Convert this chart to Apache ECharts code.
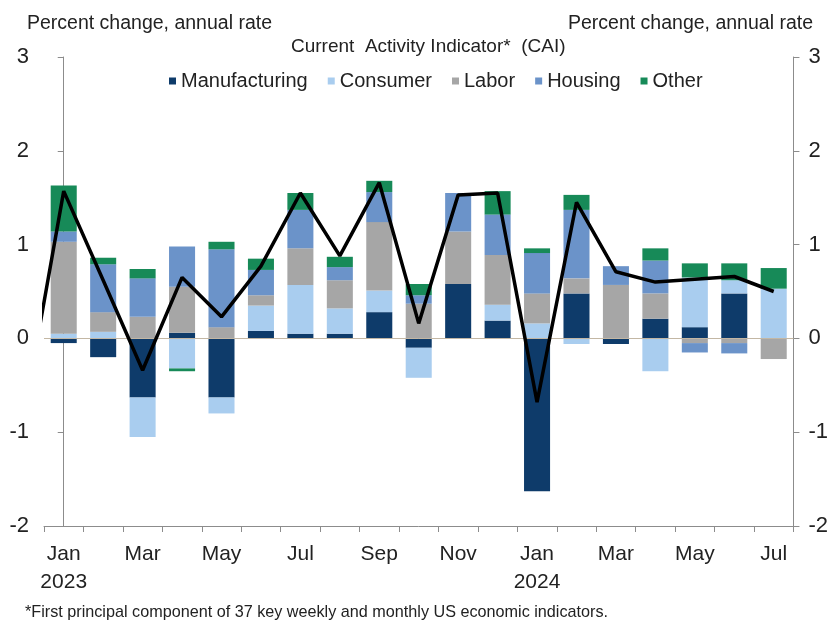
<!DOCTYPE html>
<html>
<head>
<meta charset="utf-8">
<script src="https://cdn.jsdelivr.net/npm/echarts@6/dist/echarts.min.js"></script>
<style>
  html, body { margin: 0; padding: 0; background: #fff; }
  #chart { width: 831px; height: 621px; }
</style>
</head>
<body>
<div id="chart"></div>
<script>
const months = ['Jan\n2023', 'Feb', 'Mar', 'Apr', 'May', 'Jun', 'Jul', 'Aug', 'Sep', 'Oct', 'Nov', 'Dec',
  'Jan\n2024', 'Feb', 'Mar', 'Apr', 'May', 'Jun', 'Jul'];
const manufacturing = [-0.05, -0.2, -0.63, 0.06, -0.63, 0.08, 0.05, 0.05, 0.28, -0.1, 0.58, 0.19, -1.63, 0.48, -0.06, 0.21, 0.12, 0.48, 0];
const consumer = [0.05, 0.07, -0.42, -0.32, -0.17, 0.27, 0.52, 0.27, 0.23, -0.32, 0, 0.17, 0.16, -0.06, 0, -0.35, 0.53, 0.14, 0.53];
const labor = [0.98, 0.21, 0.23, 0.49, 0.12, 0.11, 0.39, 0.3, 0.73, 0.37, 0.56, 0.53, 0.32, 0.16, 0.57, 0.27, -0.05, -0.05, -0.22];
const housing = [0.11, 0.51, 0.41, 0.43, 0.83, 0.27, 0.41, 0.14, 0.32, 0.09, 0.41, 0.43, 0.43, 0.73, 0.2, 0.35, -0.1, -0.11, 0];
const other = [0.49, 0.07, 0.1, -0.03, 0.08, 0.12, 0.18, 0.11, 0.12, 0.12, 0, 0.25, 0.05, 0.16, 0, 0.13, 0.15, 0.18, 0.22];
// CAI, first value is Dec 2022 (only its segment shows, clipped at the left edge)
const cai = [-0.8, 1.57, 0.62, -0.34, 0.65, 0.23, 0.77, 1.55, 0.88, 1.66, 0.16, 1.53, 1.55, -0.68, 1.45, 0.71, 0.6, 0.63, 0.66, 0.5];
const yTicks = [3, 2, 1, 0, -1, -2];

const font = 'Liberation Sans, Arial, sans-serif';

const colors = {
  Manufacturing: '#0e3b6a',
  Consumer: '#a9cdef',
  Labor: '#a6a6a6',
  Housing: '#6b93c9',
  Other: '#178a58'
};

function barSeries(name, data) {
  return {
    name: name,
    type: 'bar',
    stack: 'cai',
    barCategoryGap: '34%',
    itemStyle: { color: colors[name] },
    data: data
  };
}

const series = [
  barSeries('Manufacturing', manufacturing),
  barSeries('Consumer', consumer),
  barSeries('Labor', labor),
  barSeries('Housing', housing),
  barSeries('Other', other),
  {
    name: 'CAI',
    type: 'line',
    xAxisIndex: 1,
    symbol: 'none',
    clip: true,
    lineStyle: { color: '#000', width: 3.5 },
    data: cai.map((v, i) => [i - 1, v]),
    z: 5
  }
];
series[0].markLine = {
  silent: true,
  symbol: 'none',
  label: { show: false },
  lineStyle: { color: '#c3b7a4', width: 1, type: 'solid' },
  data: [{ yAxis: 0 }]
};

const yAxisBase = {
  type: 'value',
  min: -2,
  max: 3,
  interval: 1,
  splitLine: { show: false },
  axisLine: { show: true, lineStyle: { color: '#8c8c8c', width: 1 } },
  axisTick: { show: true, length: 6, lineStyle: { color: '#8c8c8c' } },
  axisLabel: {
    color: '#222',
    fontFamily: font,
    fontSize: 22,
    margin: 15,
    formatter: v => yTicks.includes(v) ? String(v) : ''
  }
};

const chart = echarts.init(document.getElementById('chart'));
chart.setOption({
  animation: false,
  backgroundColor: '#fff',
  title: [
    { text: 'Percent change, annual rate', left: 22, top: 9,
      textStyle: { fontFamily: font, fontSize: 19.5, fontWeight: 'normal', color: '#222' } },
    { text: 'Percent change, annual rate', right: 13, top: 9,
      textStyle: { fontFamily: font, fontSize: 19.5, fontWeight: 'normal', color: '#222' } },
    { text: 'Current  Activity Indicator*  (CAI)', left: 286, top: 32,
      textStyle: { fontFamily: font, fontSize: 19, fontWeight: 'normal', color: '#222' } },
    { text: '*First principal component of 37 key weekly and monthly US economic indicators.', left: 20, top: 600,
      textStyle: { fontFamily: font, fontSize: 16.2, fontWeight: 'normal', color: '#222' } }
  ],
  legend: {
    data: ['Manufacturing', 'Consumer', 'Labor', 'Housing', 'Other'],
    left: 164,
    top: 66,
    icon: 'rect',
    itemWidth: 7,
    itemHeight: 7,
    itemGap: 20,
    textStyle: { fontFamily: font, fontSize: 20, color: '#222' }
  },
  grid: { left: 44, right: 34, top: 57, bottom: 95, containLabel: false },
  xAxis: [
    {
      type: 'category',
      data: months,
      position: 'bottom',
      axisLine: { show: true, onZero: false, lineStyle: { color: '#8c8c8c' } },
      axisTick: { show: true, interval: 0, length: 6, lineStyle: { color: '#8c8c8c' } },
      axisLabel: {
        interval: 1,
        color: '#222',
        fontFamily: font,
        fontSize: 21,
        lineHeight: 28,
        margin: 14
      }
    },
    {
      type: 'value',
      min: -0.5,
      max: 18.5,
      show: false
    }
  ],
  yAxis: [
    Object.assign({}, yAxisBase, { position: 'left' }),
    Object.assign({}, yAxisBase, { position: 'right' })
  ],
  series: series
});
</script>
</body>
</html>
